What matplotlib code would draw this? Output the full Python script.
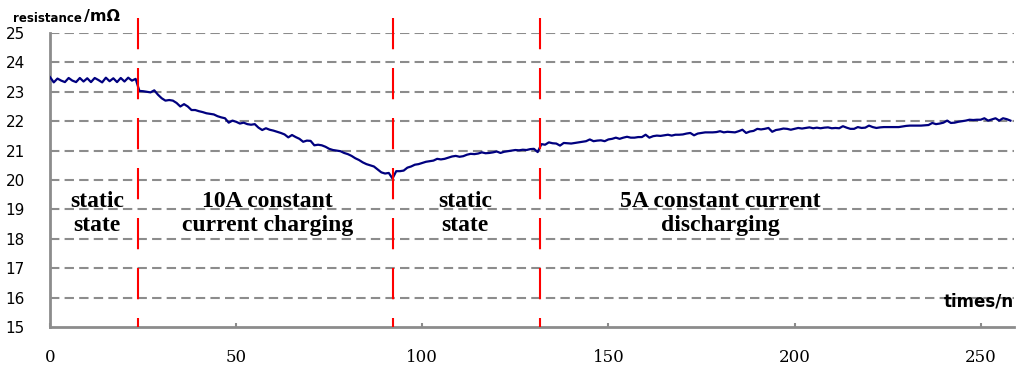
import matplotlib.pyplot as plt
import numpy as np

# resistance readings per phase (mOhm), one per sample
static_1 = [23.50, 23.32, 23.45, 23.38, 23.33, 23.47, 23.38, 23.33, 23.47, 23.35,
            23.46, 23.33, 23.47, 23.40, 23.32, 23.48, 23.36, 23.46, 23.33, 23.47,
            23.35, 23.48, 23.38, 23.44]
charging = [23.03, 23.02, 23.00, 22.98, 23.05, 22.90, 22.78, 22.70, 22.72, 22.70,
            22.62, 22.50, 22.58, 22.50, 22.38, 22.38, 22.34, 22.31, 22.27, 22.25,
            22.23, 22.17, 22.13, 22.10, 21.95, 22.02, 21.98, 21.92, 21.95, 21.90,
            21.88, 21.90, 21.78, 21.70, 21.76, 21.71, 21.68, 21.64, 21.60, 21.55,
            21.45, 21.53, 21.46, 21.40, 21.30, 21.34, 21.33, 21.18, 21.20, 21.18,
            21.13, 21.06, 21.02, 21.00, 20.98, 20.92, 20.88, 20.82, 20.74, 20.68,
            20.60, 20.54, 20.50, 20.46, 20.36, 20.26, 20.22, 20.24, 20.05]
static_2 = [20.30, 20.30, 20.32, 20.42, 20.46, 20.52, 20.54, 20.58, 20.62, 20.64,
            20.66, 20.72, 20.70, 20.72, 20.76, 20.80, 20.82, 20.79, 20.81, 20.86,
            20.89, 20.88, 20.90, 20.94, 20.91, 20.92, 20.94, 20.97, 20.92, 20.96,
            20.98, 21.00, 21.02, 21.01, 21.03, 21.02, 21.05, 21.06, 20.95]
discharging = [21.22, 21.20, 21.28, 21.25, 21.24, 21.17, 21.26, 21.25, 21.24, 21.26,
               21.28, 21.30, 21.32, 21.38, 21.32, 21.34, 21.35, 21.32, 21.38, 21.40,
               21.44, 21.40, 21.44, 21.47, 21.44, 21.44, 21.46, 21.46, 21.54, 21.44,
               21.49, 21.51, 21.50, 21.52, 21.54, 21.51, 21.54, 21.54, 21.55, 21.58,
               21.60, 21.52, 21.58, 21.60, 21.62, 21.62, 21.62, 21.63, 21.66, 21.62,
               21.64, 21.63, 21.62, 21.66, 21.71, 21.60, 21.65, 21.67, 21.74, 21.72,
               21.74, 21.77, 21.64, 21.70, 21.72, 21.75, 21.74, 21.71, 21.74, 21.77,
               21.75, 21.77, 21.79, 21.76, 21.78, 21.76, 21.78, 21.79, 21.76, 21.77,
               21.76, 21.83, 21.78, 21.74, 21.74, 21.80, 21.77, 21.78, 21.85, 21.80,
               21.77, 21.79, 21.80, 21.80, 21.80, 21.80, 21.80, 21.82, 21.84, 21.85,
               21.85, 21.85, 21.85, 21.86, 21.87, 21.94, 21.90, 21.92, 21.95, 22.02,
               21.94, 21.95, 21.98, 22.00, 22.02, 22.05, 22.04, 22.05, 22.05, 22.10,
               22.02, 22.06, 22.10, 22.02, 22.10, 22.07, 22.02]

resistance = static_1 + charging + static_2 + discharging
times = np.arange(len(resistance))

phase_bounds = [23.5, 92, 131.5]
phase_labels = ['static\nstate', '10A constant\ncurrent charging',
                'static\nstate', '5A constant current\ndischarging']
label_x = [12.6, 58.5, 111.5, 180]

yticks = list(range(15, 26))
xticks = [0, 50, 100, 150, 200, 250]

fig = plt.figure(figsize=(10.17, 3.65), dpi=100)
ax = fig.add_axes([0.0492, 0.1041, 0.948, 0.8055])

grid_col = '#8c8c8c'
for y in yticks[1:]:
    ax.axhline(y, color=grid_col, lw=1.5, dashes=(4.5, 2.5), zorder=1)

ax.plot(times, resistance, color='#00007f', lw=1.6, zorder=3)

for xb in phase_bounds:
    ax.plot([xb, xb], [25.5, 15], color='#ff0000', lw=1.5, dashes=(15, 9),
            clip_on=False, zorder=4)

for lx, txt in zip(label_x, phase_labels):
    ax.text(lx, 18.85, txt, ha='center', va='center', fontsize=17,
            fontweight='bold', family='Liberation Serif', linespacing=1.2)

ax.set_xlim(0, 259)
ax.set_ylim(15, 25)
ax.set_yticks(yticks)
ax.set_xticks(xticks)
ax.set_xticklabels([str(t) for t in xticks], family='DejaVu Serif', fontsize=12)
ax.set_yticklabels([str(t) for t in yticks], fontsize=11)
ax.tick_params(axis='y', length=0, pad=18)
ax.tick_params(axis='x', direction='in', length=3, width=1.5, color=grid_col, pad=16)

for s in ['top', 'right']:
    ax.spines[s].set_visible(False)
for s in ['left', 'bottom']:
    ax.spines[s].set_color(grid_col)
    ax.spines[s].set_linewidth(2)

fig.text(13 / 1017, 1 - 18 / 365, 'resistance', fontsize=8.5, fontweight='bold',
         va='center', ha='left')
fig.text(84 / 1017, 1 - 17 / 365, '/mΩ', fontsize=11.5, fontweight='bold',
         va='center', ha='left')
fig.text(944 / 1017, 1 - 302 / 365, 'times/n', fontsize=12, fontweight='bold',
         va='center', ha='left')

fig.savefig('out.png', dpi=100)
